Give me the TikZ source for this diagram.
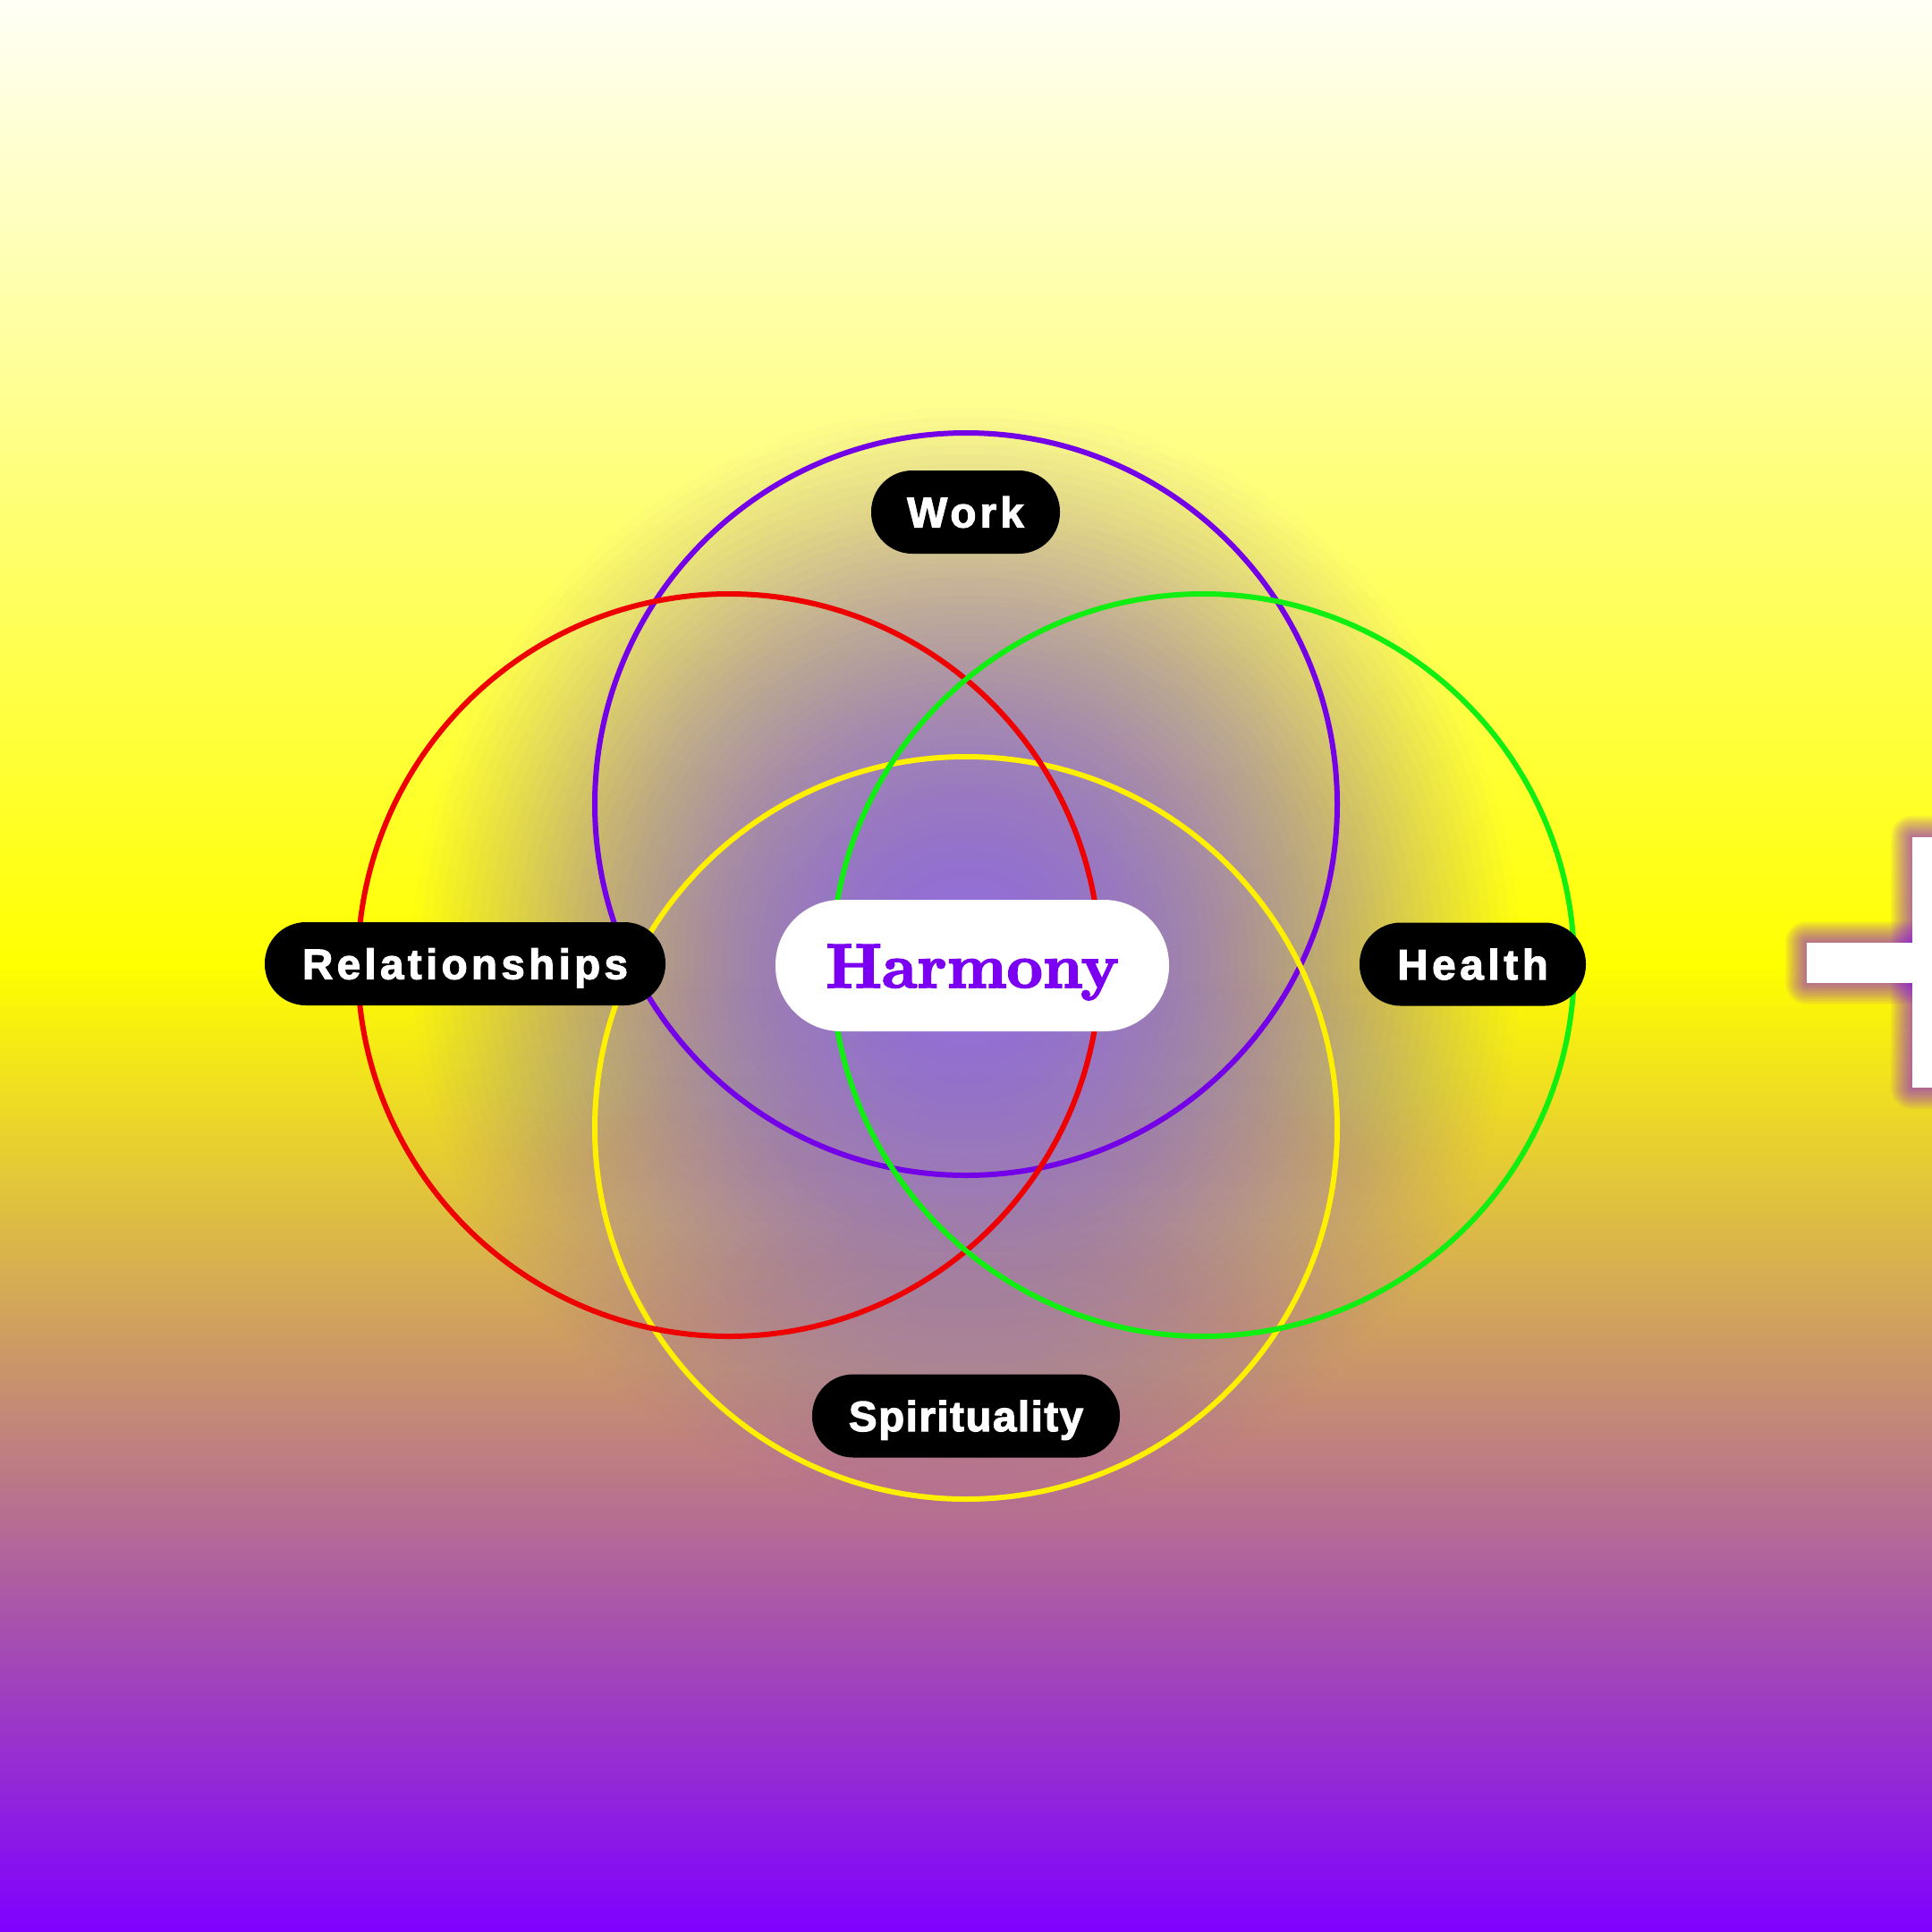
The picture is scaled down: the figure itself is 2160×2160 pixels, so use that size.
\documentclass[tikz,border=0pt]{standalone}
\usepackage{fontspec}
\newfontfamily\lblWork{Liberation Sans Bold}[LetterSpace=8.8, FakeBold=2.5]
\newfontfamily\lblRel{Liberation Sans Bold}[LetterSpace=9.2, FakeBold=2.5]
\newfontfamily\lblHealth{Liberation Sans Bold}[LetterSpace=9.9, FakeBold=2.5]
\newfontfamily\lblSpir{Liberation Sans Bold}[LetterSpace=3.2, FakeBold=2.5]
\newfontfamily\harmfont{lmroman10-bold}[Extension=.otf, FakeBold=2.6]
\definecolor{bgtop}{HTML}{FFFFF6}
\definecolor{bgmid}{HTML}{FFFF00}
\definecolor{bgbot}{HTML}{7F00FF}
\definecolor{glowcol}{HTML}{9370DB}
\definecolor{cwork}{HTML}{7300E6}
\definecolor{crel}{HTML}{EE0000}
\definecolor{chealth}{HTML}{11EE11}
\definecolor{cspir}{HTML}{FFF000}
\definecolor{charm}{HTML}{7B00F2}
\definecolor{plusglow}{HTML}{7F00FF}
\tikzset{
  ring/.style={circle, draw=#1, line width=6bp, minimum size=830bp, inner sep=0pt},
  pill/.style={fill=black, text=white, rounded corners=46bp, minimum height=93bp,
    inner sep=0pt, text height=34bp, text depth=0pt, font=\fontsize{47.5bp}{57bp}\selectfont},
  centerpill/.style={fill=white, text=charm, rounded corners=73bp, minimum height=147bp,
    minimum width=440bp, inner sep=0pt, text height=49bp, text depth=0pt,
    font=\fontsize{70bp}{84bp}\selectfont\harmfont},
  plushalo/.style={plusglow, opacity=0.06, line width=#1, line join=round}
}
\begin{document}
\begin{tikzpicture}[x=1bp,y=-1bp]
\useasboundingbox (0,0) rectangle (2160,2160);
\clip (0,0) rectangle (2160,2160);
% background
\shade[top color=bgtop, bottom color=bgbot, middle color=bgmid] (0,0) rectangle (2160,2160);
% central glow built from stacked translucent discs
\foreach \i in {1,...,59}{
  \pgfmathsetmacro\ra{630*(1-\i/60)}
  \pgfmathsetmacro\rb{630*(1-(\i-1)/60)}
  \pgfmathsetmacro\fa{(1-(\ra/630)^2)^1.2}
  \pgfmathsetmacro\fb{(1-(\rb/630)^2)^1.2}
  \pgfmathsetmacro\op{1-(1-\fa)/(1-\fb)}
  \fill[glowcol, opacity=\op] (1080,1075) circle[radius=\ra bp];
}
% circles
\node[ring=cwork] (cw) at (1080,899) {};
\node[ring=cspir] (cs) at (1080,1261) {};
\node[ring=crel] (cr) at (815,1079) {};
\node[ring=chealth] (ch) at (1345,1079) {};
% labels
\node[pill, minimum width=211bp] (work) at (1079.5,572.5) {\lblWork Work};
\node[pill, minimum width=448bp] (rel) at (520,1077.5) {\lblRel Relationships};
\node[pill, minimum width=253bp] (health) at (1646.5,1078) {\lblHealth Health};
\node[pill, minimum width=344bp] (spir) at (1080,1583) {\lblSpir Spirituality};
\node[centerpill] (harm) at (1087,1079.5) {Harmony};
% plus sign with soft glow (each bar haloed separately so inner corners glow more)
\foreach \w in {48,44,...,4}{
  \draw[plushalo=\w bp] (2020,1053.5) rectangle (2300,1098.5);
  \draw[plushalo=\w bp] (2137.5,936) rectangle (2182.5,1216);
}
\fill[white] (2020,1053.5) rectangle (2300,1098.5);
\fill[white] (2137.5,936) rectangle (2182.5,1216);
\end{tikzpicture}
\end{document}
